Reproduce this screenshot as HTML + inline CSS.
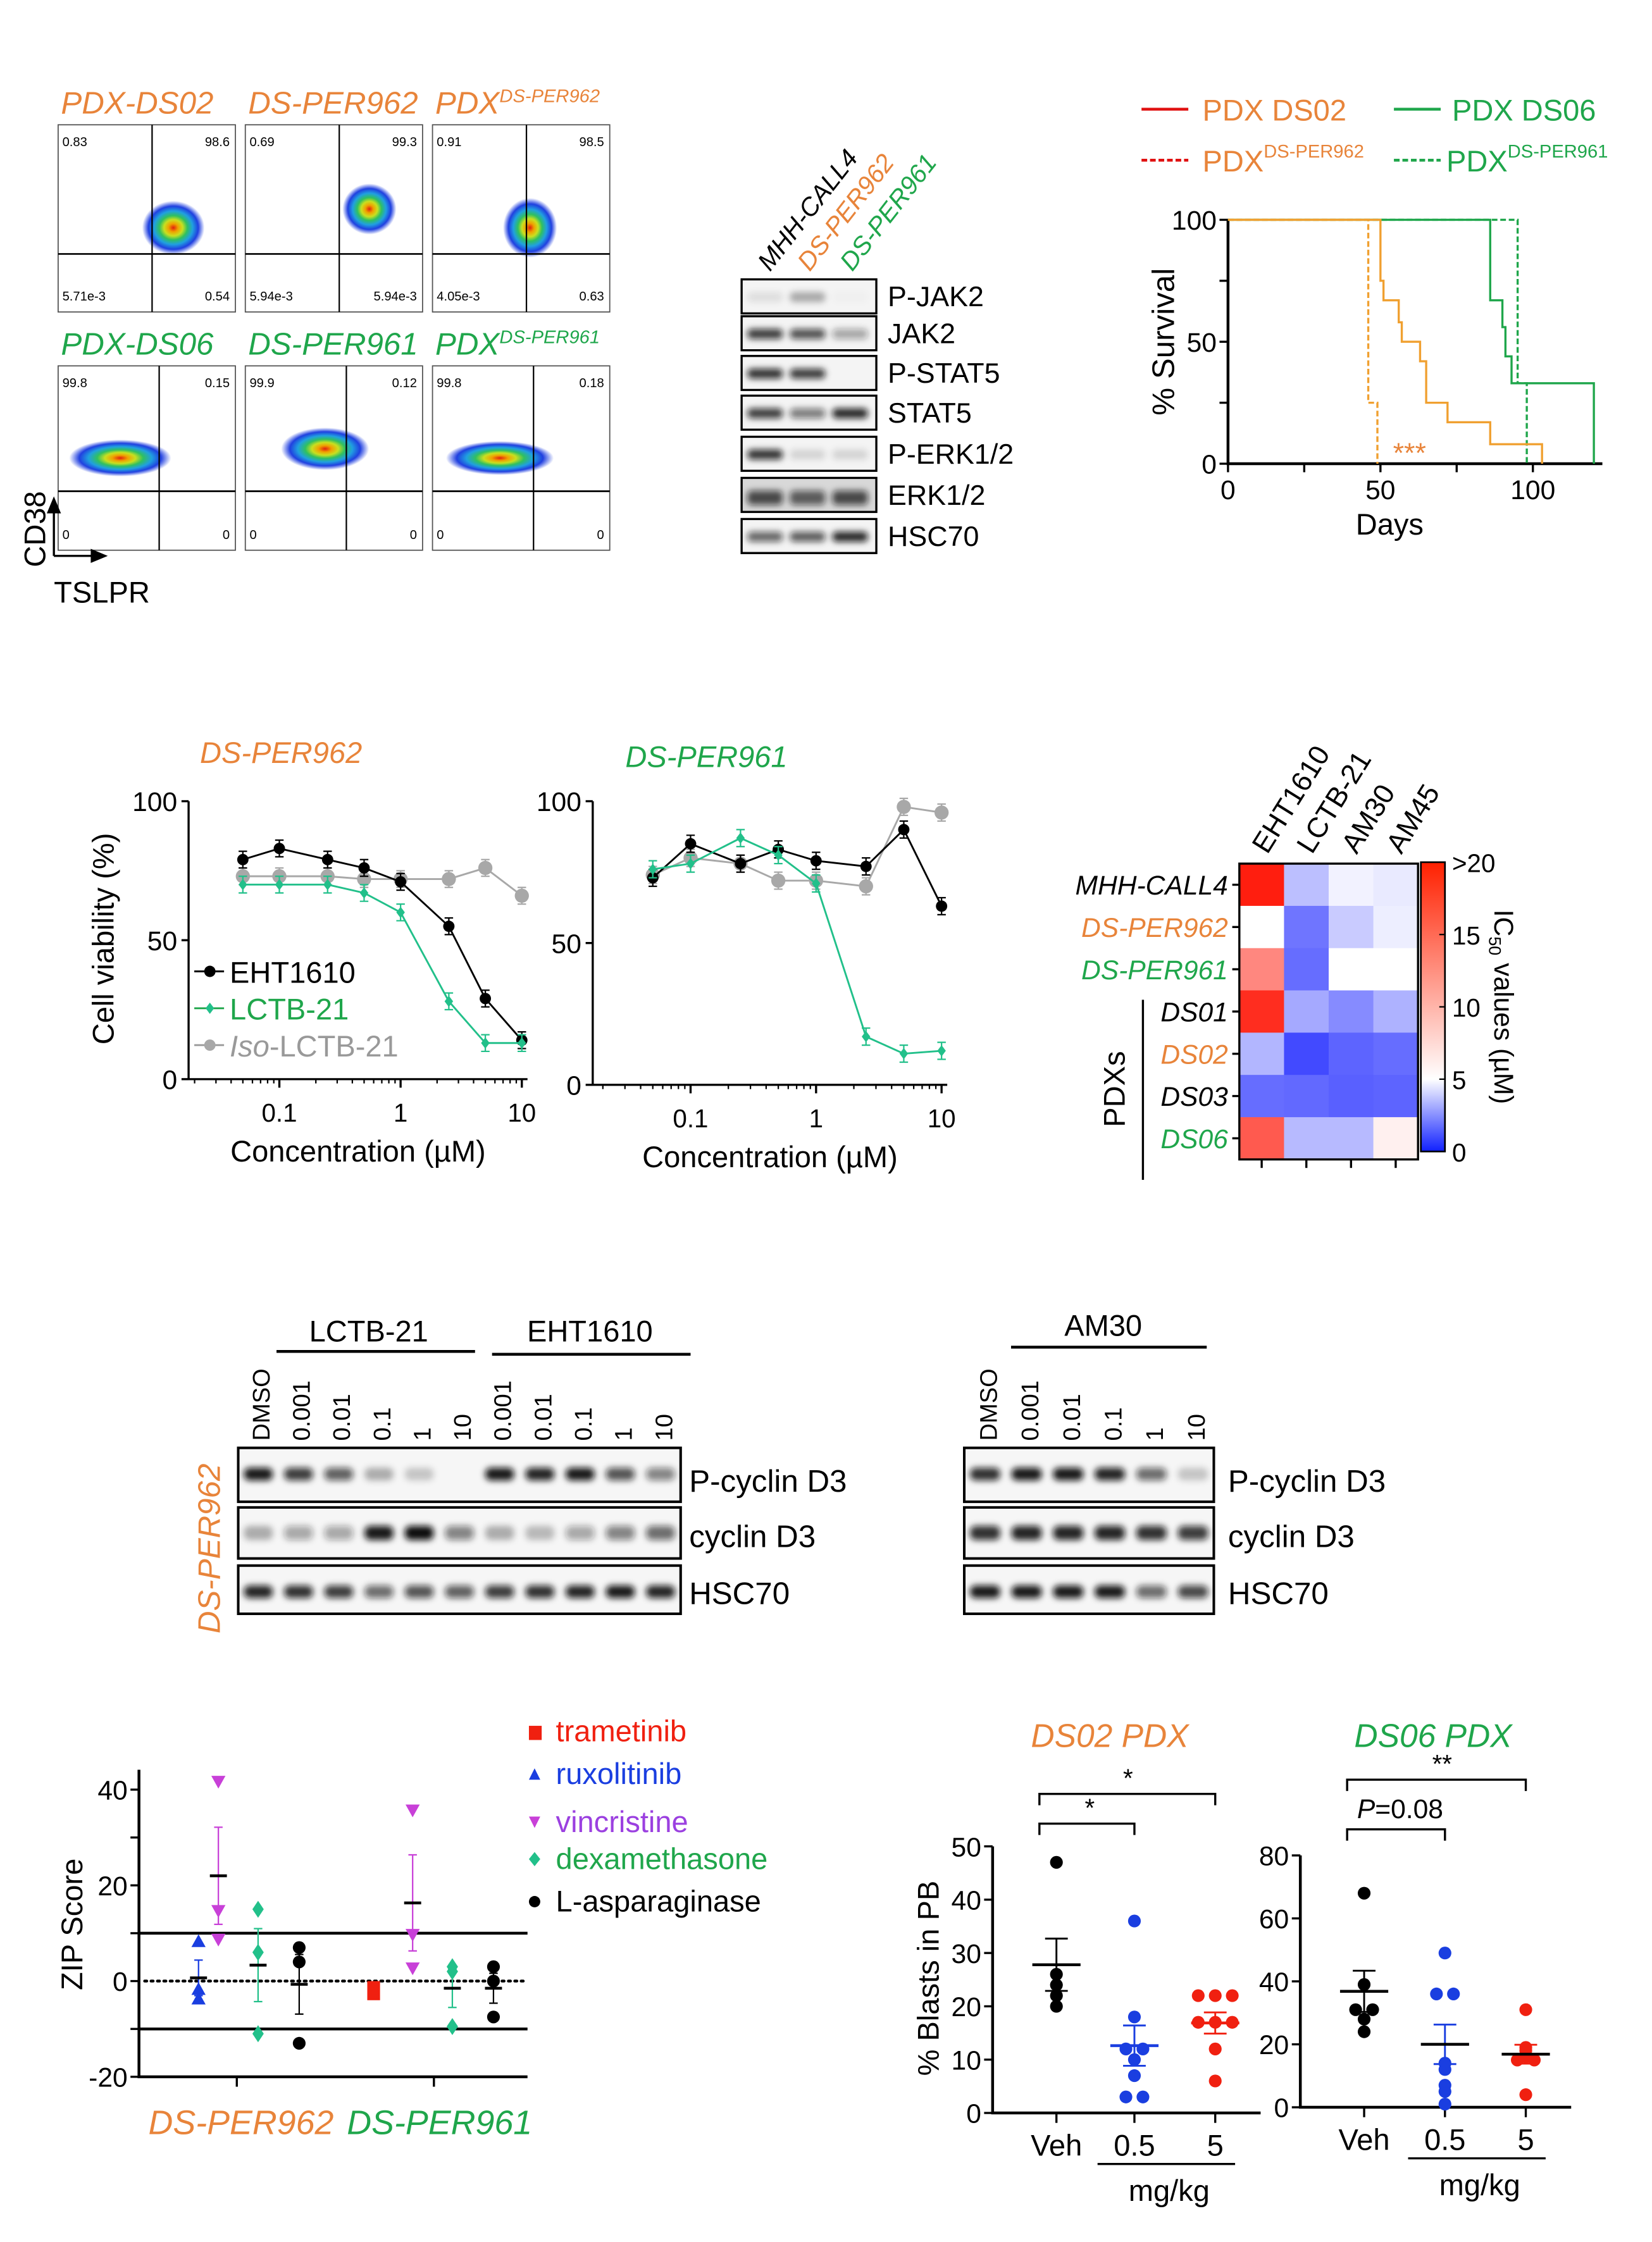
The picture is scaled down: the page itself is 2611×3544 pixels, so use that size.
<!DOCTYPE html>
<html><head><meta charset="utf-8"><style>
html,body{margin:0;padding:0;background:#fff}
svg{display:block}
text{font-family:"Liberation Sans",sans-serif}
</style></head><body>
<svg id="fig" width="2611" height="3544" viewBox="0 0 1165 1581" preserveAspectRatio="none" xmlns="http://www.w3.org/2000/svg">
<defs>
<radialGradient id="blob"><stop offset="0" stop-color="#e02010"/><stop offset="0.15" stop-color="#f0a000"/><stop offset="0.3" stop-color="#c8e020"/><stop offset="0.45" stop-color="#30c060"/><stop offset="0.62" stop-color="#20a0e0"/><stop offset="0.8" stop-color="#2040e0"/><stop offset="1" stop-color="#2040e0" stop-opacity="0"/></radialGradient>
<filter id="bl" x="-30%" y="-80%" width="160%" height="260%"><feGaussianBlur stdDeviation="2.2"/></filter>
</defs>
<g id="flow"></g>
<g id="wbA"></g>
<g id="surv"></g>
<g id="via1"></g>
<g id="via2"></g>
<g id="heat"></g>
<g id="wbC"></g>
<g id="zip"></g>
<g id="bl1"></g>
<g id="bl2"></g>
</svg>
<script>
// ---------- data ----------
const survDays = [0, 46, 49, 50, 52, 56, 57, 63, 65, 72, 86, 90, 91, 93, 95, 98, 103, 120];
const survDS02 = [[0,100],[50,100],[50,75],[51,75],[51,67],[56,67],[56,58],[57,58],[57,50],[63,50],[63,42],[65,42],[65,25],[72,25],[72,17],[86,17],[86,8],[103,8],[103,0]];
const survPER962 = [[0,100],[46,100],[46,25],[49,25],[49,0]];
const survDS06 = [[0,100],[86,100],[86,67],[90,67],[90,56],[91,56],[91,44],[93,44],[93,33],[120,33],[120,0]];
const survPER961 = [[0,100],[95,100],[95,33],[98,33],[98,0]];
const conc = [0.05, 0.1, 0.25, 0.5, 1, 2.5, 5, 10];
const v1EHT = [79, 83, 79, 76, 71, 55, 29, 14];
const v1LCTB = [70, 70, 70, 67, 60, 28, 13, 13];
const v1Iso = [73, 73, 73, 72, 72, 72, 76, 66];
const v2EHT = [73, 85, 78, 83, 79, 77, 90, 63];
const v2LCTB = [76, 78, 87, 81, 71, 17, 11, 12];
const v2Iso = [74, 80, 78, 72, 72, 70, 98, 96];
const heatCols = ["EHT1610", "LCTB-21", "AM30", "AM45"];
const heatRows = ["MHH-CALL4", "DS-PER962", "DS-PER961", "DS01", "DS02", "DS03", "DS06"];
const heatVals = [[20,3.5,4.7,4.5],[5,1.8,3.8,4.6],[13,1.6,5,5],[19,3.0,2.3,3.2],[3.3,0.8,1.4,1.6],[1.6,1.5,1.3,1.4],[16,3.4,3.4,6]];
const zipGroups = ["DS-PER962", "DS-PER961"];
const zip962Rux = [8, -2, -4];
const zip962Vin = [42, 15, 9];
const zip962Dex = [15, 6, -11];
const zip962Asp = [7, 4, -13];
const zip961Tra = [-4];
const zip961Vin = [36, 10, 3];
const zip961Dex = [3, 2, -9.5];
const zip961Asp = [3, 0, -7.5];
const blGroups = ["Veh", "0.5", "5"];
const ds02Veh = [47, 26, 24, 22, 20];
const ds02Low = [36, 18, 12, 12, 10, 7, 3, 3];
const ds02High = [22, 22, 22, 17, 17, 17, 12, 6];
const ds06Veh = [68, 39, 31, 31, 28, 24];
const ds06Low = [49, 36, 36, 14, 12, 7, 5, 1];
const ds06High = [31, 19, 18, 16, 15, 15, 4];

// ---------- helpers ----------
const NS = "http://www.w3.org/2000/svg";
function el(tag, attrs, parent){const e=document.createElementNS(NS,tag);for(const k in attrs)e.setAttribute(k,attrs[k]);parent.appendChild(e);return e;}
function tx(str, x, y, size, parent, opts){opts=opts||{};const e=el("text",{x:x,y:y,"font-size":size,fill:opts.fill||"#000","text-anchor":opts.anchor||"start"},parent);if(opts.italic)e.setAttribute("font-style","italic");if(opts.rot)e.setAttribute("transform","rotate("+opts.rot+" "+x+" "+y+")");e.textContent=str;return e;}
const OR="#E8843A", GR="#1FA64B";
const g=id=>document.getElementById(id);

// ---------- flow panel ----------
(function(){
 const P=g("flow");
 const titles=[["PDX-DS02",OR,""],["DS-PER962",OR,""],["PDX",OR,"DS-PER962"],["PDX-DS06",GR,""],["DS-PER961",GR,""],["PDX",GR,"DS-PER961"]];
 const nums=[["0.83","98.6","5.71e-3","0.54"],["0.69","99.3","5.94e-3","5.94e-3"],["0.91","98.5","4.05e-3","0.63"],["99.8","0.15","0","0"],["99.9","0.12","0","0"],["99.8","0.18","0","0"]];
 const blobs=[[0.65,0.55,22,19],[0.7,0.45,19,18],[0.55,0.55,19,21],[0.35,0.5,36,13],[0.45,0.45,31,15],[0.38,0.5,38,12]];
 for(let i=0;i<6;i++){
  const r=Math.floor(i/3),c=i%3;
  const x=41+c*132, y=r?258:88, w=125, h=r?130:132;
  const qx=r?x+w*0.57:x+w*0.53, qy=r?y+h*0.68:y+h*0.69;
  const box=el("g",{},P);
  
  
  const t=tx(titles[i][0],x+2,y-8,22,box,{fill:titles[i][1],italic:true});
  if(titles[i][2]){const s=el("tspan",{dy:-8,"font-size":13},t);s.textContent=titles[i][2];}
  el("ellipse",{cx:x+w*blobs[i][0],cy:y+h*blobs[i][1],rx:blobs[i][2],ry:blobs[i][3],fill:"url(#blob)"},box);
  el("rect",{x:x,y:y,width:w,height:h,fill:"none",stroke:"#555","stroke-width":0.8},box);
  el("line",{x1:qx,y1:y,x2:qx,y2:y+h,stroke:"#000","stroke-width":1},box);
  el("line",{x1:x,y1:qy,x2:x+w,y2:qy,stroke:"#000","stroke-width":1.2},box);
  tx(nums[i][0],x+3,y+15,9,box);tx(nums[i][1],x+w-4,y+15,9,box,{anchor:"end"});
  tx(nums[i][2],x+3,y+h-8,9,box);tx(nums[i][3],x+w-4,y+h-8,9,box,{anchor:"end"});
 }
 el("path",{d:"M38,392 V360 M38,392 H66",stroke:"#000","stroke-width":1.5,fill:"none"},P);
 el("path",{d:"M33,362 L38,350 L43,362Z M64,387 L76,392 L64,397Z",fill:"#000"},P);
 tx("CD38",32,400,21,P,{rot:-90});
 tx("TSLPR",38,425,21,P);
})();

// ---------- western blot A ----------
(function(){
 const P=g("wbA");
 const labs=["P-JAK2","JAK2","P-STAT5","STAT5","P-ERK1/2","ERK1/2","HSC70"];
 const ys=[197,223,251,279,308,337,366];
 const inten=[[0.1,0.35,0.02],[0.9,0.8,0.4],[0.95,0.9,0],[0.9,0.6,1],[0.95,0.15,0.15],[0.8,0.7,0.8],[0.7,0.75,1]];
 ys.forEach((y,i)=>{
  const r=el("g",{},P);
  
  
  el("rect",{x:523,y:y,width:95,height:24,fill:i==5?"#d8d8d8":"#f4f4f4"},r);
  for(let l=0;l<3;l++){const v=inten[i][l];if(v>0)el("rect",{x:527+l*30,y:y+9,width:25,height:i==5?10:7,rx:3,fill:"#111","fill-opacity":v*0.9,filter:"url(#bl)"},r);}
  el("rect",{x:523,y:y,width:95,height:24,fill:"none",stroke:"#000","stroke-width":1.5},r);
  tx(labs[i],626,y+19,20,r);
 });
 tx("MHH-CALL4",543,192,18,P,{rot:-52,italic:true});
 tx("DS-PER962",571,192,18,P,{rot:-52,italic:true,fill:OR});
 tx("DS-PER961",601,192,18,P,{rot:-52,italic:true,fill:GR});
})();

// ---------- survival ----------
(function(){
 const P=g("surv");
 const X=d=>866+d*2.15, Y=v=>327-v*1.72;
 el("line",{x1:805,y1:77,x2:838,y2:77,stroke:"#e01010","stroke-width":2},P);tx("PDX DS02",848,85,21,P,{fill:OR});
 el("line",{x1:983,y1:77,x2:1016,y2:77,stroke:GR,"stroke-width":2},P);tx("PDX DS06",1024,85,21,P,{fill:GR});
 el("line",{x1:805,y1:113,x2:838,y2:113,stroke:"#e01010","stroke-width":2,"stroke-dasharray":"4,2"},P);
 let t=tx("PDX",848,121,21,P,{fill:OR});let s=el("tspan",{dy:-10,"font-size":13},t);s.textContent="DS-PER962";
 el("line",{x1:983,y1:113,x2:1016,y2:113,stroke:GR,"stroke-width":2,"stroke-dasharray":"4,2"},P);
 t=tx("PDX",1020,121,21,P,{fill:GR});s=el("tspan",{dy:-10,"font-size":13},t);s.textContent="DS-PER961";
 el("path",{d:"M866,155 V327 H1130",stroke:"#000","stroke-width":2,fill:"none"},P);
 [0,25,50,75,100].forEach(v=>el("line",{x1:860,y1:Y(v),x2:866,y2:Y(v),stroke:"#000","stroke-width":1.5},P));
 [0,50,100].forEach(v=>tx(v,858,Y(v)+7,19,P,{anchor:"end"}));
 [0,25,50,75,100].forEach(d=>el("line",{x1:X(d),y1:327,x2:X(d),y2:333,stroke:"#000","stroke-width":1.5},P));
 [0,50,100].forEach(d=>tx(d,X(d),352,19,P,{anchor:"middle"}));
 tx("Days",980,377,21,P,{anchor:"middle"});
 tx("% Survival",828,241,22,P,{anchor:"middle",rot:-90});
 const curve=(pts,col,dash,name)=>{const p=el("path",{d:"M"+pts.map(q=>X(q[0])+","+Y(q[1])).join(" L"),stroke:col,"stroke-width":1.5,fill:"none"},P);if(dash)p.setAttribute("stroke-dasharray","4,2");
  
  };
 curve(survDS06,GR,false,"curve-pdx-ds06");curve(survPER961,GR,true,"curve-pdx-per961");
 curve(survDS02,"#F0A030",false,"curve-pdx-ds02");curve(survPER962,"#F0A030",true,"curve-pdx-per962");
 tx("***",994,326,20,P,{anchor:"middle",fill:OR});
})();

// ---------- viability ----------
function viability(P,cfg){
 const X=c=>cfg.x1+(Math.log10(c)+1)*cfg.dec, Y=v=>cfg.y0-v*cfg.ys;
 el("path",{d:`M${cfg.ax},${Y(100)} V${Y(0)} H${X(10)+4}`,stroke:"#000","stroke-width":1.5,fill:"none"},P);
 [0,50,100].forEach(v=>{el("line",{x1:cfg.ax-5,y1:Y(v),x2:cfg.ax,y2:Y(v),stroke:"#000","stroke-width":1.5},P);tx(v,cfg.ax-8,Y(v)+7,19,P,{anchor:"end"});});
 [0.1,1,10].forEach(c=>{el("line",{x1:X(c),y1:Y(0),x2:X(c),y2:Y(0)+6,stroke:"#000","stroke-width":1.5},P);tx(c,X(c),Y(0)+30,18,P,{anchor:"middle"});});
 [0.02,0.03,0.04,0.05,0.06,0.07,0.08,0.09,0.2,0.3,0.4,0.5,0.6,0.7,0.8,0.9,2,3,4,5,6,7,8,9].forEach(c=>{if(X(c)>cfg.ax)el("line",{x1:X(c),y1:Y(0),x2:X(c),y2:Y(0)+3,stroke:"#000","stroke-width":1},P);});
 tx("Concentration (µM)",(cfg.ax+X(10))/2+2,Y(0)+58,21,P,{anchor:"middle"});
 tx(cfg.title,cfg.tx,cfg.ty,21,P,{italic:true,fill:cfg.tc});
 const series=[[cfg.iso,"#a8a8a8","circle","iso"],[cfg.eht,"#000","circle","eht1610"],[cfg.lctb,"#22c08a","diamond","lctb21"]];
 series.forEach(([vals,col,shape,nm])=>{
  const ln=el("path",{d:"M"+conc.map((c,i)=>X(c)+","+Y(vals[i])).join(" L"),stroke:col,"stroke-width":1.3,fill:"none"},P);
  
  
  conc.forEach((c,i)=>{
   const e=3;el("path",{d:`M${X(c)},${Y(vals[i]+e)} V${Y(vals[i]-e)} M${X(c)-3},${Y(vals[i]+e)} h6 M${X(c)-3},${Y(vals[i]-e)} h6`,stroke:col,"stroke-width":1},P);
   let m;
   if(shape=="circle")m=el("circle",{cx:X(c),cy:Y(vals[i]),r:col=="#a8a8a8"?5:4,fill:col},P);
   else m=el("path",{d:`M${X(c)},${Y(vals[i])-4} l3,4 l-3,4 l-3,-4Z`,fill:col},P);
   
   
  });
 });
}
viability(g("via1"),{x1:197,dec:85.5,y0:761,ys:1.96,ax:133,eht:v1EHT,lctb:v1LCTB,iso:v1Iso,title:"DS-PER962",tx:141,ty:538,tc:OR});
viability(g("via2"),{x1:487,dec:88.5,y0:765,ys:2.0,ax:418,eht:v2EHT,lctb:v2LCTB,iso:v2Iso,title:"DS-PER961",tx:441,ty:541,tc:GR});
(function(){const P=g("via1");
 const L=[["EHT1610","#000"],["LCTB-21",GR],["Iso-LCTB-21","#999"]];
 L.forEach((l,i)=>{const y=691+i*26;
  const it=el("g",{},P);
  
  
  el("line",{x1:137,y1:y-6,x2:158,y2:y-6,stroke:i==0?"#000":l[1],"stroke-width":1.3},it);
  if(i==1)el("path",{d:`M148,${y-10} l3,4 l-3,4 l-3,-4Z`,fill:"#22c08a"},it);else el("circle",{cx:148,cy:y-6,r:4,fill:i==0?"#000":"#a8a8a8"},it);
  if(i==2){const t=tx("",162,y+2,21,it,{fill:"#999"});const a=el("tspan",{"font-style":"italic"},t);a.textContent="Iso";const b=el("tspan",{},t);b.textContent="-LCTB-21";}
  else tx(l[0],162,y+2,21,it,{fill:l[1]});
 });
 tx("Cell viability (%)",80,662,21,P,{anchor:"middle",rot:-90});
})();

// ---------- heatmap ----------
(function(){
 const P=g("heat");
 const x0=874,y0=609,cw=31.5,ch=29.8;
 function col(v){v=Math.min(v,20);
  if(v<=5){const t=v/5;return `rgb(${Math.round(30+225*t)},${Math.round(40+215*t)},255)`;}
  const t=(v-5)/15;return `rgb(255,${Math.round(255-225*t)},${Math.round(255-240*t)})`;}
 heatRows.forEach((r,i)=>heatCols.forEach((c,j)=>{
  const rc=el("rect",{x:x0+j*cw,y:y0+i*ch,width:cw+0.5,height:ch+0.5,fill:col(heatVals[i][j])},P);
  
  
 }));
 el("rect",{x:x0,y:y0,width:cw*4,height:ch*7,fill:"none",stroke:"#000","stroke-width":1.5},P);
 const rc=["#000",OR,GR,"#000",OR,"#000",GR];
 heatRows.forEach((r,i)=>{const y=y0+(i+0.5)*ch;el("line",{x1:x0-5,y1:y,x2:x0,y2:y,stroke:"#000","stroke-width":1.5},P);tx(r,x0-8,y+7,19,P,{anchor:"end",italic:true,fill:rc[i]});});
 heatCols.forEach((c,j)=>{const x=x0+(j+0.5)*cw;el("line",{x1:x,y1:y0+7*ch,x2:x,y2:y0+7*ch+6,stroke:"#000","stroke-width":1.5},P);tx(c,x+4,y0-6,20,P,{rot:-58});});
 el("line",{x1:806,y1:705,x2:806,y2:832,stroke:"#000","stroke-width":1.5},P);
 tx("PDXs",793,768,21,P,{anchor:"middle",rot:-90});
 const gr=el("linearGradient",{id:"cb",x1:0,y1:1,x2:0,y2:0},document.querySelector("defs"));
 [[0,"#1020ff"],[0.25,"#fff"],[1,"#ff2000"]].forEach(s=>el("stop",{offset:s[0],"stop-color":s[1]},gr));
 el("rect",{x:1002,y:608,width:17,height:204,fill:"url(#cb)",stroke:"#000","stroke-width":1.2},P);
 [[">20",608],["15",659],["10",710],["5",761],["0",812]].forEach(([l,y])=>{el("line",{x1:1015,y1:y,x2:1019,y2:y,stroke:"#000"},P);tx(l,1024,y+7,18,P);});
 const t=tx("",1054,710,19,P,{anchor:"middle",rot:90});
 const a=el("tspan",{},t);a.textContent="IC";const b=el("tspan",{"font-size":12,dy:4},t);b.textContent="50";const cc=el("tspan",{dy:-4},t);cc.textContent=" values (µM)";
})();

// ---------- western blot C ----------
(function(){
 const P=g("wbC");
 function blot(x,w,n,rows){
  const lw=w/n;
  rows.forEach((row,ri)=>{const y=[1021,1063,1104][ri],h=[38,36,34][ri];
   const r=el("g",{},P);
   
   
   el("rect",{x:x,y:y,width:w,height:h,fill:"#f6f6f6"},r);
   row.forEach((v,l)=>{if(v>0)el("rect",{x:x+l*lw+4,y:y+h/2-5+(ri==2?2:0),width:lw-8,height:ri==1?10:9,rx:4,fill:"#111","fill-opacity":v,filter:"url(#bl)"},r);});
   el("rect",{x:x,y:y,width:w,height:h,fill:"none",stroke:"#000","stroke-width":1.8},r);
  });
 }
 blot(168,312,11,[[0.95,0.8,0.65,0.3,0.2,0,0.95,0.9,0.95,0.7,0.5],[0.3,0.35,0.35,0.95,1,0.5,0.3,0.25,0.35,0.5,0.6],[0.9,0.85,0.8,0.6,0.7,0.65,0.8,0.85,0.9,0.95,0.9]]);
 blot(680,176,6,[[0.85,0.95,0.95,0.9,0.6,0.2],[0.85,0.9,0.9,0.9,0.85,0.8],[0.95,0.95,0.95,0.95,0.6,0.75]]);
 [["P-cyclin D3",1052],["cyclin D3",1091],["HSC70",1131]].forEach(([l,y])=>{tx(l,486,y,22,P);tx(l,866,y,22,P);});
 const lab1=["DMSO","0.001","0.01","0.1","1","10","0.001","0.01","0.1","1","10"];
 lab1.forEach((l,i)=>tx(l,190+i*28.4,1016,17,P,{rot:-90}));
 ["DMSO","0.001","0.01","0.1","1","10"].forEach((l,i)=>tx(l,703+i*29.3,1016,17,P,{rot:-90}));
 el("line",{x1:195,y1:953,x2:335,y2:953,stroke:"#000","stroke-width":2},P);
 el("line",{x1:347,y1:955,x2:487,y2:955,stroke:"#000","stroke-width":2},P);
 el("line",{x1:713,y1:950,x2:851,y2:950,stroke:"#000","stroke-width":2},P);
 tx("LCTB-21",260,946,21,P,{anchor:"middle"});tx("EHT1610",416,946,21,P,{anchor:"middle"});tx("AM30",778,942,21,P,{anchor:"middle"});
 tx("DS-PER962",155,1092,22,P,{anchor:"middle",rot:-90,italic:true,fill:OR});
})();

// ---------- ZIP ----------
(function(){
 const P=g("zip");
 const Y=v=>1397-v*3.375;
 el("path",{d:`M98,1248 V${Y(-20)} H372`,stroke:"#000","stroke-width":2,fill:"none"},P);
 [-20,-10,0,10,20,30,40].forEach(v=>el("line",{x1:92,y1:Y(v),x2:98,y2:Y(v),stroke:"#000","stroke-width":1.5},P));
 [-20,0,20,40].forEach(v=>tx(v,90,Y(v)+7,19,P,{anchor:"end"}));
 tx("ZIP Score",58,1357,21,P,{anchor:"middle",rot:-90});
 el("line",{x1:98,y1:Y(10),x2:372,y2:Y(10),stroke:"#000","stroke-width":2},P);
 el("line",{x1:98,y1:Y(-10),x2:372,y2:Y(-10),stroke:"#000","stroke-width":2},P);
 el("line",{x1:102,y1:Y(0),x2:372,y2:Y(0),stroke:"#000","stroke-width":2,"stroke-dasharray":"1.5,3","stroke-linecap":"round"},P);
 [167,306].forEach(x=>el("line",{x1:x,y1:Y(-20),x2:x,y2:Y(-20)+7,stroke:"#000","stroke-width":1.5},P));
 tx(zipGroups[0],170,1505,24,P,{anchor:"middle",italic:true,fill:OR});
 tx(zipGroups[1],310,1505,24,P,{anchor:"middle",italic:true,fill:GR});
 const mean=a=>a.reduce((s,v)=>s+v,0)/a.length;
 const sem=a=>{const m=mean(a);return Math.sqrt(a.reduce((s,v)=>s+(v-m)*(v-m),0)/(a.length-1)/a.length);};
 function grp(x,vals,col,shape,nm){
  const m=mean(vals),e=sem(vals);
  el("path",{d:`M${x},${Y(m+e)} V${Y(m-e)} M${x-3},${Y(m+e)} h6 M${x-3},${Y(m-e)} h6`,stroke:col,"stroke-width":1},P);
  el("line",{x1:x-6,y1:Y(m),x2:x+6,y2:Y(m),stroke:"#000","stroke-width":2},P);
  vals.forEach(v=>{const y=Y(v);let p;
   if(shape=="up")p=el("path",{d:`M${x},${y-6} l5,9 h-10Z`,fill:col},P);
   else if(shape=="down")p=el("path",{d:`M${x},${y+6} l5,-9 h-10Z`,fill:col},P);
   else if(shape=="dia")p=el("path",{d:`M${x},${y-6} l4,6 l-4,6 l-4,-6Z`,fill:col},P);
   else p=el("circle",{cx:x,cy:y,r:4.5,fill:col},P);
   
   });
 }
 grp(140,zip962Rux,"#1a3ee0","up","ruxolitinib");
 grp(154,zip962Vin,"#c840d8","down","vincristine");
 grp(182,zip962Dex,"#22c08a","dia","dexamethasone");
 grp(211,zip962Asp,"#000","hex","asparaginase");
 const tb=el("rect",{x:259,y:Y(0),width:9,height:Y(mean(zip961Tra))-Y(0),fill:"#f02010"},P);
 
 
 grp(291,zip961Vin,"#c840d8","down","vincristine");
 grp(319,zip961Dex,"#22c08a","dia","dexamethasone");
 grp(348,zip961Asp,"#000","hex","asparaginase");
 const L=[["trametinib","#f02010","sq"],["ruxolitinib","#1a3ee0","up"],["vincristine","#9b40e0","down"],["dexamethasone",GR,"dia"],["L-asparaginase","#000","hex"]];
 const ly=[1226,1256,1290,1316,1346];
 L.forEach((l,i)=>{const y=ly[i];
  const it=el("g",{},P);
  
  
  const c=i==2?"#c840d8":i==3?"#22c08a":l[1];
  if(l[2]=="sq")el("rect",{x:373,y:y-9,width:9,height:10,fill:"#f02010"},it);
  else if(l[2]=="up")el("path",{d:`M377,${y-9} l4,8 h-8Z`,fill:c},it);
  else if(l[2]=="down")el("path",{d:`M377,${y-1} l4,-8 h-8Z`,fill:c},it);
  else if(l[2]=="dia")el("path",{d:`M377,${y-10} l4,5 l-4,5 l-4,-5Z`,fill:c},it);
  else el("circle",{cx:377,cy:y-5,r:4,fill:"#000"},it);
  tx(l[0],392,y+2,21,it,{fill:l[1]});
 });
})();

// ---------- blasts ----------
function blasts(P,cfg){
 const Y=v=>cfg.y0-v*cfg.ys;
 el("path",{d:`M${cfg.ax},${Y(cfg.max)} V${Y(0)} H${cfg.xs[2]+32}`,stroke:"#000","stroke-width":2,fill:"none"},P);
 cfg.ticks.forEach(v=>{el("line",{x1:cfg.ax-6,y1:Y(v),x2:cfg.ax,y2:Y(v),stroke:"#000","stroke-width":1.5},P);tx(v,cfg.ax-8,Y(v)+7,19,P,{anchor:"end"});});
 cfg.xs.forEach((x,i)=>{el("line",{x1:x,y1:Y(0),x2:x,y2:Y(0)+7,stroke:"#000","stroke-width":1.5},P);tx(blGroups[i],x,Y(0)+30,21,P,{anchor:"middle"});});
 el("line",{x1:cfg.xs[1]-26,y1:Y(0)+36,x2:cfg.xs[2]+14,y2:Y(0)+36,stroke:"#000","stroke-width":1.5},P);
 tx("mg/kg",(cfg.xs[1]+cfg.xs[2])/2-4,Y(0)+62,21,P,{anchor:"middle"});
 tx(cfg.title,cfg.tx,1232,23,P,{italic:true,fill:cfg.tc});
 const cols=["#000","#1a3ee0","#f02010"], mcols=cfg.mcols;
 cfg.data.forEach((vals,i)=>{
  const x=cfg.xs[i], m=vals.reduce((a,b)=>a+b,0)/vals.length;
  const sd=Math.sqrt(vals.reduce((s,v)=>s+(v-m)*(v-m),0)/(vals.length-1)), e=sd/Math.sqrt(vals.length);
  const seen={};
  vals.forEach(v=>{const k=Math.round(v);seen[k]=(seen[k]||0)+1;const n=seen[k]-1;
   const cnt=vals.filter(q=>Math.round(q)==k).length;
   const off=cnt==1?0:(n-(cnt-1)/2)*12;
   const c=el("circle",{cx:x+off,cy:Y(v),r:4.5,fill:cols[i]},P);
   
   });
  el("path",{d:`M${x},${Y(m+e)} V${Y(m-e)} M${x-8},${Y(m+e)} h16 M${x-8},${Y(m-e)} h16`,stroke:cols[i],"stroke-width":1.3,fill:"none"},P);
  el("line",{x1:x-17,y1:Y(m),x2:x+17,y2:Y(m),stroke:mcols[i],"stroke-width":2},P);
 });
 cfg.brackets.forEach(b=>{el("path",{d:`M${cfg.xs[b[0]]-12},${b[2]+8} V${b[2]} H${cfg.xs[b[1]]} V${b[2]+8}`,stroke:"#000","stroke-width":1.5,fill:"none"},P);tx(b[3],b[4],b[2]-5,b[5]||18,P,{anchor:"start"});});
}
blasts(g("bl1"),{y0:1490,ys:3.76,max:50,ax:700,xs:[745,800,857],ticks:[0,10,20,30,40,50],data:[ds02Veh,ds02Low,ds02High],title:"DS02 PDX",tx:727,tc:OR,mcols:["#000","#1a3ee0","#f02010"],
 brackets:[[0,1,1286,"*",765],[0,2,1265,"*",792]]});
blasts(g("bl2"),{y0:1486,ys:2.22,max:80,ax:917,xs:[962,1019,1076],ticks:[0,20,40,60,80],data:[ds06Veh,ds06Low,ds06High],title:"DS06 PDX",tx:955,tc:GR,mcols:["#000","#000","#000"],
 brackets:[[0,1,1290,"",958],[0,2,1255,"**",1010]]});
(function(){const P=g("bl2");const t=tx("",957,1282,19,P);const a=el("tspan",{"font-style":"italic"},t);a.textContent="P";const b=el("tspan",{},t);b.textContent="=0.08";
 tx("% Blasts in PB",662,1395,21,g("bl1"),{anchor:"middle",rot:-90});})();
</script>
</body></html>
